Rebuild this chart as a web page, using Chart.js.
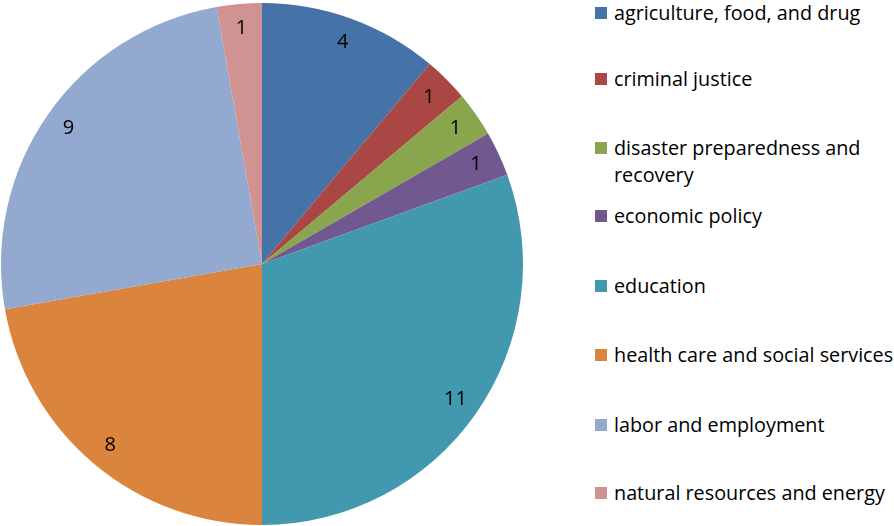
<!DOCTYPE html>
<html>
<head>
<meta charset="utf-8">
<script src="https://cdn.jsdelivr.net/npm/chart.js@4"></script>
<style>
  html, body { margin: 0; padding: 0; background: #fff; }
  #wrap { position: relative; width: 894px; height: 526px; overflow: hidden; }
  #pie-box { position: absolute; left: 0; top: 0; width: 524px; height: 526px; }
  #legend { position: absolute; left: 595px; top: 0; width: 299px; height: 526px; font-family: "Open Sans", sans-serif; font-size: 19.8px; color: #000; }
  .item { position: absolute; left: 0; display: flex; align-items: flex-start; white-space: nowrap; }
  .swatch { width: 12px; height: 12px; flex-shrink: 0; margin-top: 7px; margin-right: 7px; }
  .text { line-height: 27px; margin-top: -1px; }
</style>
</head>
<body>
<div id="wrap">
  <div id="pie-box"><canvas id="pie"></canvas></div>
  <div id="legend"></div>
</div>
<script>
// categories + counts, clockwise from 12 o'clock
const categories = [
  'agriculture, food, and drug',
  'criminal justice',
  'disaster preparedness and recovery',
  'economic policy',
  'education',
  'health care and social services',
  'labor and employment',
  'natural resources and energy',
]
const counts = [4, 1, 1, 1, 11, 8, 9, 1]
const colors = ['#4572a7', '#aa4643', '#89a54e', '#71588f', '#4198af', '#db843d', '#93a9cf', '#d19392']

// legend rows (top of each row, px) and where the long label wraps
const legendTops = [0, 66, 135, 203, 273, 342, 412, 480]
const legendLines = [
  ['agriculture, food, and drug'],
  ['criminal justice'],
  ['disaster preparedness and', 'recovery'],
  ['economic policy'],
  ['education'],
  ['health care and social services'],
  ['labor and employment'],
  ['natural resources and energy'],
]

// value labels drawn inside each slice near the rim
const sliceLabels = {
  id: 'sliceLabels',
  afterDatasetsDraw(chart) {
    const { ctx } = chart
    const meta = chart.getDatasetMeta(0)
    ctx.save()
    ctx.font = '20px "Open Sans", sans-serif'
    ctx.fillStyle = '#000'
    ctx.textAlign = 'center'
    ctx.textBaseline = 'middle'
    meta.data.forEach((arc, i) => {
      const { x, y, startAngle, endAngle, outerRadius } = arc.getProps(['x', 'y', 'startAngle', 'endAngle', 'outerRadius'], true)
      const mid = (startAngle + endAngle) / 2
      const r = outerRadius * 0.905
      ctx.fillText(String(counts[i]), x + Math.cos(mid) * r, y + Math.sin(mid) * r)
    })
    ctx.restore()
  },
}

new Chart(document.getElementById('pie'), {
  type: 'pie',
  data: {
    labels: categories,
    datasets: [{
      data: counts,
      backgroundColor: colors,
      borderWidth: 0,
    }],
  },
  options: {
    responsive: true,
    maintainAspectRatio: false,
    animation: false,
    layout: { padding: { top: 3, bottom: 1, left: 1, right: 1 } },
    plugins: {
      legend: { display: false },
      tooltip: { enabled: false },
    },
  },
  plugins: [sliceLabels],
})

// Custom legend
const legendEl = document.getElementById('legend')
legendEl.innerHTML = categories.map((name, i) =>
  `<div class="item" style="top:${legendTops[i]}px">
    <span class="swatch" style="background:${colors[i]}"></span>
    <span class="text">${legendLines[i].join('<br>')}</span>
  </div>`
).join('')
</script>
</body>
</html>
